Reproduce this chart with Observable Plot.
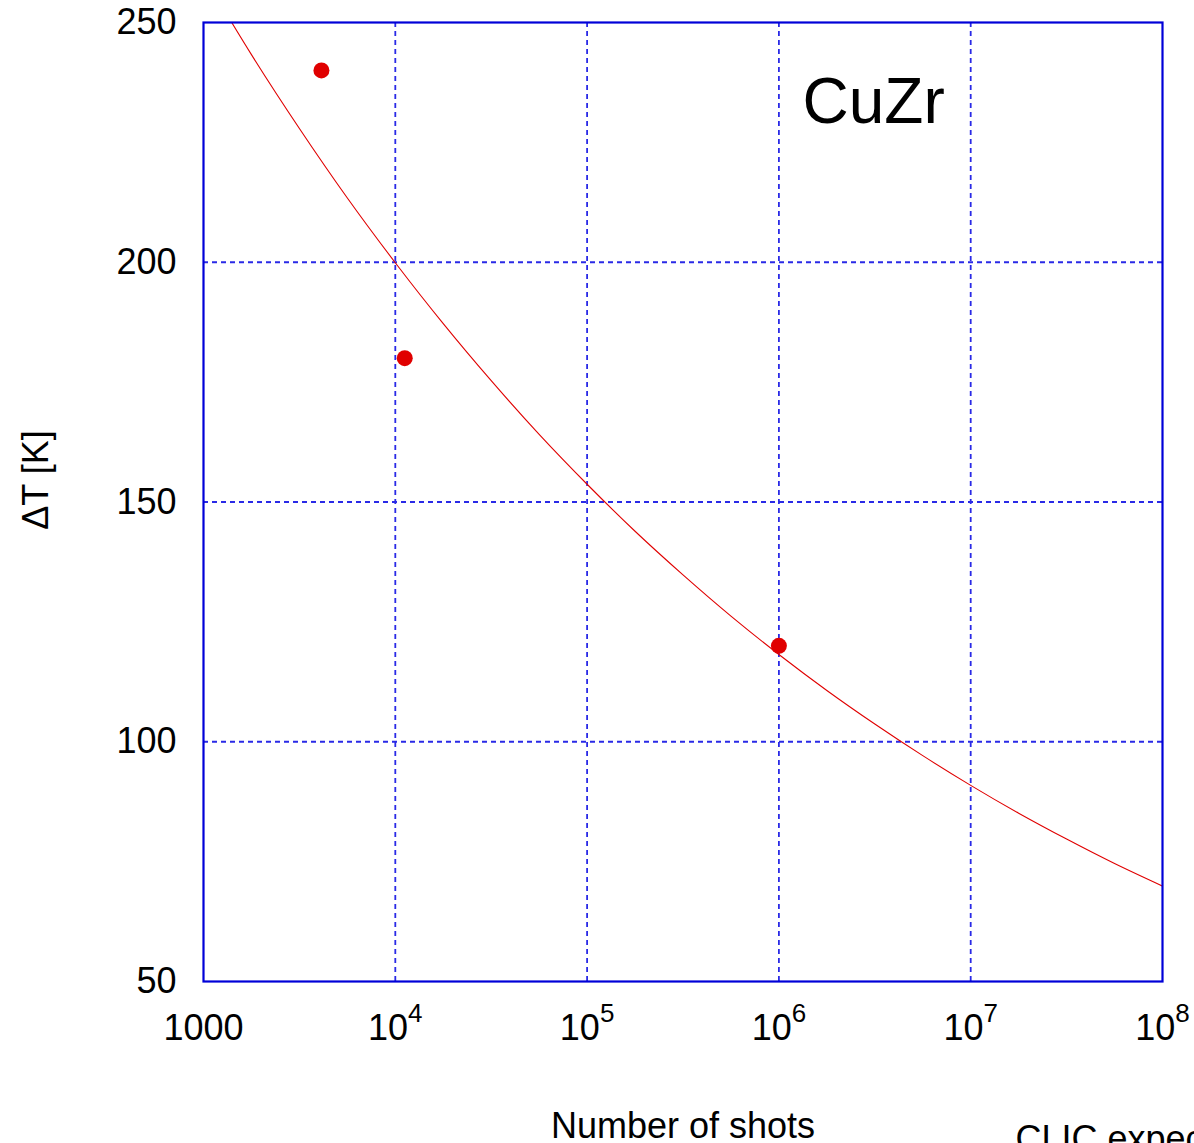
<!DOCTYPE html>
<html><head><meta charset="utf-8">
<script src="https://cdn.jsdelivr.net/npm/d3@7"></script>
<script src="https://cdn.jsdelivr.net/npm/@observablehq/plot@0.6"></script>
<style>html,body{margin:0;padding:0;overflow:hidden;background:#fff}</style>
</head><body><div id="chart"></div>
<script>
// Fitted curve, values
const curveShots  = [1000, 1778, 3162, 5623, 10000, 17783, 31623, 56234, 100000, 177828, 316228, 562341, 1000000, 1778279, 3162278, 5623413, 10000000, 17782794, 31622777, 56234133, 100000000];
const curveDeltaT = [259.8, 243.3, 227.9, 213.4, 199.9, 187.2, 175.3, 164.1, 153.7, 143.9, 134.8, 126.2, 118.2, 110.7, 103.7, 97.1, 90.9, 85.1, 79.7, 74.6, 69.9];
// Measured points
const pointShots  = [4120, 11200, 1000000];
const pointDeltaT = [240, 180, 120];
// Ticks
const xTicks = [1e3, 1e4, 1e5, 1e6, 1e7, 1e8];
const yTicks = [50, 100, 150, 200, 250];
const sampleLabel = "CuZr";
const xLabel = "Number of shots";
const yLabel = "ΔT [K]";
const footnote = "CLIC expected";

const curve = curveShots.map((n, i) => ({n, t: curveDeltaT[i]}));
const points = pointShots.map((n, i) => ({n, t: pointDeltaT[i]}));

const gridStyle = {stroke: "#2a2ae6", strokeOpacity: 1, strokeWidth: 1.8, strokeDasharray: "5,4"};
const xFmt = d => d === 1000 ? "1000" : "10^" + Math.round(Math.log10(d));

const chart = Plot.plot({
  width: 1194, height: 1143,
  marginTop: 22, marginBottom: 162, marginLeft: 203, marginRight: 32,
  style: {fontFamily: "'Liberation Sans', Arial, Helvetica, sans-serif", fontSize: "36px", color: "black", background: "white", overflow: "visible"},
  x: {type: "log", domain: [1e3, 1e8]},
  y: {domain: [50, 250]},
  marks: [
    Plot.gridX(xTicks.slice(1, -1), gridStyle),
    Plot.gridY(yTicks.slice(1, -1), gridStyle),
    Plot.line(curve, {x: "n", y: "t", stroke: "#e00000", strokeWidth: 1.1, curve: "natural", clip: true}),
    Plot.dot(points, {x: "n", y: "t", r: 8, fill: "#e00000", stroke: "none"}),
    Plot.frame({stroke: "#0000d8", strokeWidth: 2.2}),
    Plot.axisX({ticks: xTicks, tickFormat: xFmt, tickSize: 0, tickPadding: 33, label: xLabel, labelAnchor: "center", labelOffset: 156, labelArrow: "none"}),
    Plot.axisY({ticks: yTicks, tickSize: 0, tickPadding: 27, label: null}),
    Plot.text([yLabel], {text: d => d, frameAnchor: "left", rotate: -90, dx: -167, dy: -22, lineAnchor: "middle", textAnchor: "middle", fontSize: 36}),
    Plot.text([sampleLabel], {text: d => d, frameAnchor: "top-right", dx: -360, dy: 80, textAnchor: "start", lineAnchor: "middle", fontSize: 64}),
    Plot.text([footnote], {text: d => d, frameAnchor: "bottom-right", dx: -147, dy: 158, textAnchor: "start", lineAnchor: "middle", fontSize: 36})
  ]
});
document.getElementById("chart").appendChild(chart);

// superscript exponents on x tick labels
d3.select(chart).selectAll('g[aria-label="x-axis tick label"] text').each(function () {
  const t = d3.select(this);
  const s = t.text();
  if (s.startsWith("10^")) {
    t.text("");
    t.append("tspan").text("10");
    t.append("tspan").attr("font-size", 26).attr("dy", -18).text(s.slice(3));
  }
});
</script>
</body></html>
